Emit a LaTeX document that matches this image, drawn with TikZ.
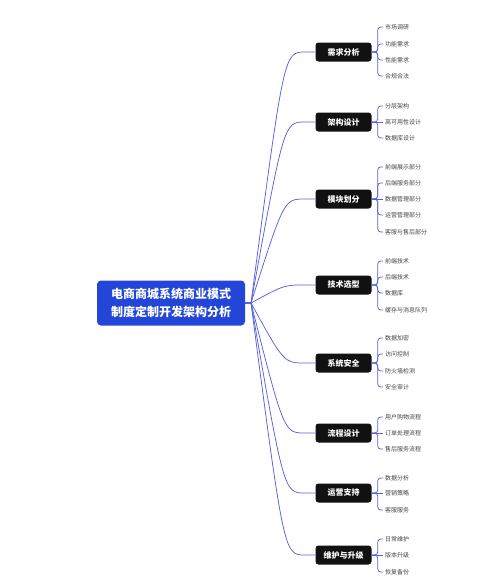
\documentclass[tikz,border=0pt]{standalone}
\usepackage{fontspec}
\setmainfont{Noto Sans CJK SC}
\usetikzlibrary{calc}
\definecolor{rootblue}{HTML}{2446D8}
\definecolor{linkblue}{HTML}{5860DC}
\definecolor{boxblack}{HTML}{111111}
\definecolor{leafgray}{HTML}{444444}

\begin{document}
\begin{tikzpicture}[x=1pt, y=-1pt]
        % Define block styles
        \tikzstyle{topic} = [rectangle, fill=rootblue, text=white, align=center,
            font=\fontsize{12}{18}\selectfont\bfseries, rounded corners=4pt,
            minimum width=148, minimum height=45]
        \tikzstyle{branch} = [rectangle, fill=boxblack, text=white, inner sep=0pt,
            font=\fontsize{8}{10}\selectfont\bfseries, rounded corners=3pt,
            minimum width=56, minimum height=19]
        \tikzstyle{leaf} = [anchor=west, text=leafgray, inner sep=2pt,
            font=\fontsize{6}{7}\selectfont]
        \tikzstyle{line} = [draw, linkblue, line width=0.75pt]
        \tikzstyle{bracket} = [draw, linkblue, line width=0.75pt, rounded corners=3pt]

        \useasboundingbox (0,0) rectangle (500,579);

        % Nodes
        \node [topic] (root) at (171,303) {电商商城系统商业模式\\制度定制开发架构分析};
        \coordinate (hub) at (251,303);

        \node [branch] (req) at (343.5,52) {需求分析};
        \node [branch] (arch) at (343.5,122) {架构设计};
        \node [branch] (mod) at (343.5,199) {模块划分};
        \node [branch] (tech) at (343.5,285) {技术选型};
        \node [branch] (sec) at (343.5,363) {系统安全};
        \node [branch] (flow) at (343.5,433) {流程设计};
        \node [branch] (ops) at (343.5,493) {运营支持};
        \node [branch] (maint) at (343.5,555) {维护与升级};

        \node [leaf] (req1) at (383,27) {市场调研};
        \node [leaf] (req2) at (383,44) {功能需求};
        \node [leaf] (req3) at (383,60) {性能需求};
        \node [leaf] (req4) at (383,76) {合规合法};

        \node [leaf] (arch1) at (383,106) {分层架构};
        \node [leaf] (arch2) at (383,122) {高可用性设计};
        \node [leaf] (arch3) at (383,138) {数据库设计};

        \node [leaf] (mod1) at (383,167) {前端展示部分};
        \node [leaf] (mod2) at (383,183) {后端服务部分};
        \node [leaf] (mod3) at (383,199) {数据管理部分};
        \node [leaf] (mod4) at (383,215) {运营管理部分};
        \node [leaf] (mod5) at (383,232) {客服与售后部分};

        \node [leaf] (tech1) at (383,261) {前端技术};
        \node [leaf] (tech2) at (383,277) {后端技术};
        \node [leaf] (tech3) at (383,293) {数据库};
        \node [leaf] (tech4) at (383,310) {缓存与消息队列};

        \node [leaf] (sec1) at (383,338) {数据加密};
        \node [leaf] (sec2) at (383,354) {访问控制};
        \node [leaf] (sec3) at (383,371) {防火墙检测};
        \node [leaf] (sec4) at (383,387) {安全审计};

        \node [leaf] (flow1) at (383,417) {用户购物流程};
        \node [leaf] (flow2) at (383,433) {订单处理流程};
        \node [leaf] (flow3) at (383,449) {售后服务流程};

        \node [leaf] (ops1) at (383,478) {数据分析};
        \node [leaf] (ops2) at (383,493) {营销策略};
        \node [leaf] (ops3) at (383,510) {客服服务};

        \node [leaf] (maint1) at (383,539) {日常维护};
        \node [leaf] (maint2) at (383,555) {版本升级};
        \node [leaf] (maint3) at (383,572) {恢复备份};

        % Arrows
        \path [line] (root.east) -- (hub) .. controls ($(hub |- req)+(33,0)$) and ($(hub |- req)+(33,0)$) .. ($(hub |- req)+(54,0)$) -- (req.west);
        \path [line] (root.east) -- (hub) .. controls ($(hub |- arch)+(33,0)$) and ($(hub |- arch)+(33,0)$) .. ($(hub |- arch)+(54,0)$) -- (arch.west);
        \path [line] (root.east) -- (hub) .. controls ($(hub |- mod)+(33,0)$) and ($(hub |- mod)+(33,0)$) .. ($(hub |- mod)+(54,0)$) -- (mod.west);
        \path [line] (root.east) -- (hub) .. controls ($(hub |- tech)+(33,0)$) and ($(hub |- tech)+(33,0)$) .. ($(hub |- tech)+(54,0)$) -- (tech.west);
        \path [line] (root.east) -- (hub) .. controls ($(hub |- sec)+(33,0)$) and ($(hub |- sec)+(33,0)$) .. ($(hub |- sec)+(54,0)$) -- (sec.west);
        \path [line] (root.east) -- (hub) .. controls ($(hub |- flow)+(33,0)$) and ($(hub |- flow)+(33,0)$) .. ($(hub |- flow)+(54,0)$) -- (flow.west);
        \path [line] (root.east) -- (hub) .. controls ($(hub |- ops)+(33,0)$) and ($(hub |- ops)+(33,0)$) .. ($(hub |- ops)+(54,0)$) -- (ops.west);
        \path [line] (root.east) -- (hub) .. controls ($(hub |- maint)+(33,0)$) and ($(hub |- maint)+(33,0)$) .. ($(hub |- maint)+(54,0)$) -- (maint.west);

        \path [bracket] (req.east) -- ++(6,0) |- (req1.west);
        \path [bracket] (req.east) -- ++(6,0) |- (req2.west);
        \path [bracket] (req.east) -- ++(6,0) |- (req3.west);
        \path [bracket] (req.east) -- ++(6,0) |- (req4.west);

        \path [bracket] (arch.east) -- ++(6,0) |- (arch1.west);
        \path [bracket] (arch.east) -- (arch2.west);
        \path [bracket] (arch.east) -- ++(6,0) |- (arch3.west);

        \path [bracket] (mod.east) -- ++(6,0) |- (mod1.west);
        \path [bracket] (mod.east) -- ++(6,0) |- (mod2.west);
        \path [bracket] (mod.east) -- (mod3.west);
        \path [bracket] (mod.east) -- ++(6,0) |- (mod4.west);
        \path [bracket] (mod.east) -- ++(6,0) |- (mod5.west);

        \path [bracket] (tech.east) -- ++(6,0) |- (tech1.west);
        \path [bracket] (tech.east) -- ++(6,0) |- (tech2.west);
        \path [bracket] (tech.east) -- ++(6,0) |- (tech3.west);
        \path [bracket] (tech.east) -- ++(6,0) |- (tech4.west);

        \path [bracket] (sec.east) -- ++(6,0) |- (sec1.west);
        \path [bracket] (sec.east) -- ++(6,0) |- (sec2.west);
        \path [bracket] (sec.east) -- ++(6,0) |- (sec3.west);
        \path [bracket] (sec.east) -- ++(6,0) |- (sec4.west);

        \path [bracket] (flow.east) -- ++(6,0) |- (flow1.west);
        \path [bracket] (flow.east) -- (flow2.west);
        \path [bracket] (flow.east) -- ++(6,0) |- (flow3.west);

        \path [bracket] (ops.east) -- ++(6,0) |- (ops1.west);
        \path [bracket] (ops.east) -- (ops2.west);
        \path [bracket] (ops.east) -- ++(6,0) |- (ops3.west);

        \path [bracket] (maint.east) -- ++(6,0) |- (maint1.west);
        \path [bracket] (maint.east) -- (maint2.west);
        \path [bracket] (maint.east) -- ++(6,0) |- (maint3.west);
    \end{tikzpicture}
\end{document}
